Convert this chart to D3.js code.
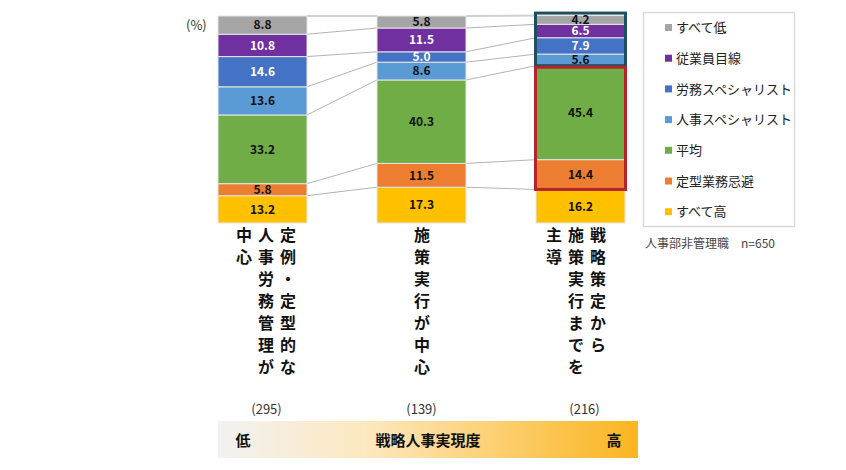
<!DOCTYPE html>
<html>
<head>
<meta charset="utf-8">
<script src="https://cdn.jsdelivr.net/npm/d3@7"></script>
<style>
  body { margin: 0; background: #fff; }
  svg text { font-family: "Noto Sans CJK JP", "Noto Sans", sans-serif; }
</style>
</head>
<body>
<div id="chart"></div>
<script>
// categories (bottom to top in the stack)
var series = ["すべて高", "定型業務忌避", "平均", "人事スペシャリスト", "労務スペシャリスト", "従業員目線", "すべて低"];
var groups = ["g1", "g2", "g3"];
var groupLabels = [
  ["中心", "人事労務管理が", "定例・定型的な"],
  ["施策実行が中心"],
  ["主導", "施策実行までを", "戦略策定から"]
];
var groupCounts = ["(295)", "(139)", "(216)"];
// values per group, same order as series
var vals1 = [13.2, 5.8, 33.2, 13.6, 14.6, 10.8, 8.8];
var vals2 = [17.3, 11.5, 40.3, 8.6, 5.0, 11.5, 5.8];
var vals3 = [16.2, 14.4, 45.4, 5.6, 7.9, 6.5, 4.2];
var colors = ["#ffc000", "#ed7d31", "#70ad47", "#5b9bd5", "#4472c4", "#7030a0", "#a5a5a5"];
var whiteText = ["労務スペシャリスト", "従業員目線"];

var width = 846, height = 470;
var svg = d3.select("#chart").append("svg")
    .attr("width", width)
    .attr("height", height);

var rows = groups.map(function(g, i) {
  var o = { group: g };
  var v = [vals1, vals2, vals3][i];
  series.forEach(function(s, j) { o[s] = v[j]; });
  return o;
});

var stack = d3.stack().keys(series)(rows);

// bars 89 wide, 70 apart
var x = d3.scaleBand()
    .domain(groups)
    .range([218, 218 + 89 * 3 + 70 * 2])
    .paddingInner(70 / 159)
    .paddingOuter(0);

var y = d3.scaleLinear().domain([0, 100]).range([223, 16]);
var color = d3.scaleOrdinal().domain(series).range(colors);
var bw = x.bandwidth();

// series lines between bars
stack.forEach(function(layer) {
  for (var i = 0; i < groups.length - 1; i++) {
    svg.append("line")
      .attr("x1", x(groups[i]) + bw)
      .attr("x2", x(groups[i + 1]))
      .attr("y1", y(layer[i][1]))
      .attr("y2", y(layer[i + 1][1]))
      .attr("stroke", layer.key == "すべて低" ? "#d0d0d0" : "#b3b3b3")
      .attr("stroke-width", layer.key == "すべて低" ? 2 : 1);
  }
});

// bars
var layers = svg.append("g").selectAll("g")
  .data(stack)
  .enter().append("g")
    .attr("fill", function(d) { return color(d.key); });

layers.selectAll("rect")
  .data(function(d) { return d; })
  .enter().append("rect")
    .attr("x", function(d) { return x(d.data.group); })
    .attr("y", function(d) { return y(d[1]); })
    .attr("width", bw)
    .attr("height", function(d) { return y(d[0]) - y(d[1]); })
    .attr("stroke", "#e6e6e6")
    .attr("stroke-width", 1);

// value labels
stack.forEach(function(layer) {
  layer.forEach(function(d) {
    svg.append("text")
      .attr("x", x(d.data.group) + bw / 2)
      .attr("y", (y(d[0]) + y(d[1])) / 2)
      .attr("dy", "0.36em")
      .attr("text-anchor", "middle")
      .attr("font-size", 12)
      .attr("font-weight", "bold")
      .attr("fill", whiteText.indexOf(layer.key) >= 0 ? "#fff" : "#111")
      .text(d3.format(".1f")(d[1] - d[0]));
  });
});

// highlight boxes on 3rd bar
svg.append("rect")
  .attr("x", x("g3") - 0.5)
  .attr("y", y(stack[6][2][1]) - 2.5)
  .attr("width", bw + 1)
  .attr("height", y(stack[3][2][0]) - y(stack[6][2][1]) + 2.5)
  .attr("fill", "none")
  .attr("stroke", "#1f4e5f")
  .attr("stroke-width", 3);
svg.append("rect")
  .attr("x", x("g3") - 0.5)
  .attr("y", y(stack[2][2][1]) + 1.5)
  .attr("width", bw + 1)
  .attr("height", y(stack[1][2][0]) - y(stack[2][2][1]) - 1.5)
  .attr("fill", "none")
  .attr("stroke", "#b5242b")
  .attr("stroke-width", 3);

svg.append("text")
  .attr("x", 186).attr("y", 30)
  .attr("font-size", 13)
  .attr("fill", "#333")
  .text("(%)");

// vertical category labels (columns right to left)
var colOffsets = [[-18.5, 3.5, 25.5], [0.5], [-26.5, -4.5, 17.5]];
groups.forEach(function(g, i) {
  groupLabels[i].forEach(function(col, c) {
    Array.from(col).forEach(function(ch, k) {
      svg.append("text")
        .attr("x", x(g) + bw / 2 + colOffsets[i][c])
        .attr("y", 235 + k * 22)
        .attr("dy", "0.36em")
        .attr("text-anchor", "middle")
        .attr("font-size", 16)
        .attr("font-weight", "bold")
        .attr("fill", "#111")
        .text(ch);
    });
  });
  svg.append("text")
    .attr("x", x(g) + bw / 2 + (i == 1 ? 0 : 4))
    .attr("y", 409)
    .attr("dy", "0.36em")
    .attr("text-anchor", "middle")
    .attr("font-size", 13)
    .attr("fill", "#333")
    .text(groupCounts[i]);
});

// gradient bar
var defs = svg.append("defs");
var grad = defs.append("linearGradient").attr("id", "grad");
grad.append("stop").attr("offset", "0%").attr("stop-color", "#f2f2f2");
grad.append("stop").attr("offset", "35%").attr("stop-color", "#fde8bf");
grad.append("stop").attr("offset", "100%").attr("stop-color", "#fbb51f");
svg.append("rect")
  .attr("x", 218).attr("y", 421)
  .attr("width", 420).attr("height", 37)
  .attr("fill", "url(#grad)");
[["低", 243], ["戦略人事実現度", 428], ["高", 614]].forEach(function(t) {
  svg.append("text")
    .attr("x", t[1]).attr("y", 441)
    .attr("dy", "0.36em")
    .attr("text-anchor", "middle")
    .attr("font-size", 15)
    .attr("font-weight", "bold")
    .attr("fill", "#111")
    .text(t[0]);
});

// legend (top to bottom)
var legendItems = series.slice().reverse();
svg.append("rect")
  .attr("x", 643.5).attr("y", 12.5)
  .attr("width", 151).attr("height", 214)
  .attr("fill", "#fff")
  .attr("stroke", "#d9d9d9")
  .attr("stroke-width", 1.5);
var legend = svg.append("g").selectAll("g")
  .data(legendItems)
  .enter().append("g")
    .attr("transform", function(d, i) { return "translate(665," + (27.5 + i * 30.7) + ")"; });
legend.append("rect")
  .attr("x", 0).attr("y", -3.5)
  .attr("width", 7).attr("height", 7)
  .attr("fill", function(d) { return color(d); });
legend.append("text")
  .attr("x", 11)
  .attr("dy", "0.36em")
  .attr("font-size", 13)
  .attr("fill", "#222")
  .text(function(d) { return d; });

svg.append("text")
  .attr("x", 645).attr("y", 244)
  .attr("dy", "0.36em")
  .attr("font-size", 12)
  .attr("fill", "#444")
  .text("人事部非管理職　n=650");
</script>
</body>
</html>
